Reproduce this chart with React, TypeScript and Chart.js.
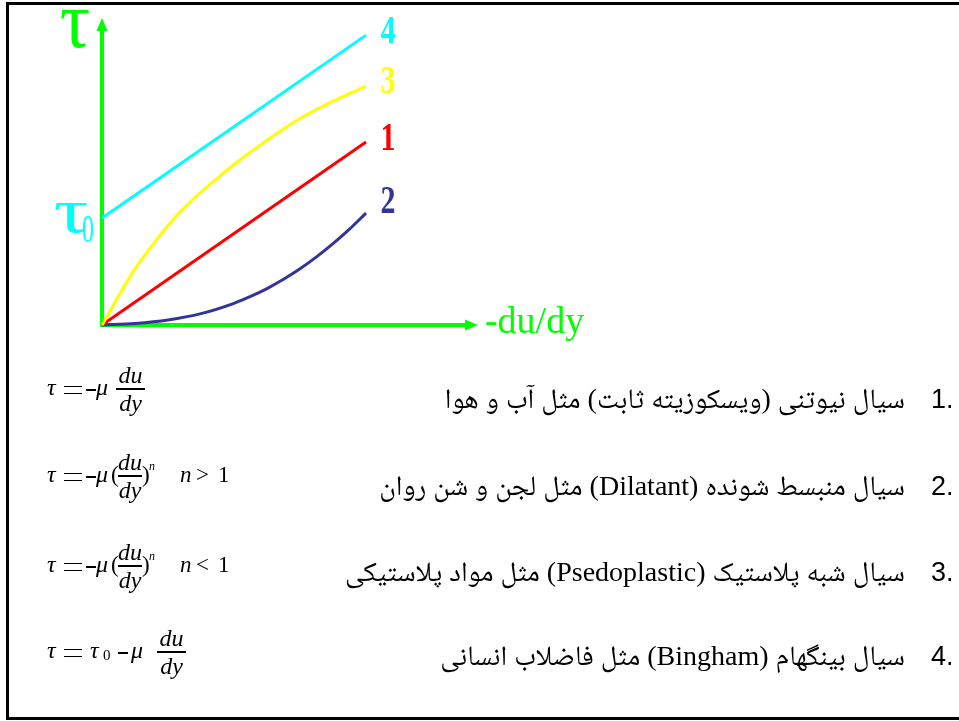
import React, { useEffect, useRef } from "react";
import { Chart, registerables } from "chart.js";

Chart.register(...registerables);

// ---- data (reading of the reference, arbitrary units) ----
const seriesLabels = ["1", "2", "3", "4"];
const newtonianX = [0, 10];
const newtonianY = [0, 6.93];
const dilatantX = [0, 1.25, 2.5, 3.75, 5, 5.625, 6.25, 6.875, 7.5, 8.125, 8.75, 9.375, 10];
const dilatantY = [0, 0.06, 0.19, 0.43, 0.82, 1.08, 1.38, 1.73, 2.13, 2.58, 3.08, 3.63, 4.24];
const pseudoX = [0, 0.6, 1.2, 1.85, 2.46, 3.07, 3.71, 4.36, 4.96, 6.25, 7.5, 8.75, 10];
const pseudoY = [0, 1.05, 2.05, 2.95, 3.72, 4.4, 5.0, 5.55, 6.05, 7.0, 7.82, 8.48, 9.05];
const binghamX = [0, 10];
const binghamY = [4.05, 10.98];
const xAxisEnd = 14.24;
const yAxisEnd = 11.63;

const axisTitleY = "τ";
const axisTitleX = "-du/dy";
const tau0Label = "τ";
const tau0Sub = "0";

const listNumbers = ["1.", "2.", "3.", "4."];
const listTexts = [
  "سیال نیوتنی (ویسکوزیته ثابت) مثل آب و هوا",
  "سیال منبسط شونده (Dilatant) مثل لجن و شن روان",
  "سیال شبه پلاستیک (Psedoplastic) مثل مواد پلاستیکی",
  "سیال بینگهام (Bingham) مثل فاضلاب انسانی",
];

const GREEN = "#00ff00";
const CYAN = "#00ffff";
const YELLOW = "#ffff00";
const RED = "#ff0000";
const NAVY = "#333399";

const X_MIN = -3.864;
const X_MAX = X_MIN + 959 / 26.4;
const Y_MAX = 325 / 26.4;
const Y_MIN = Y_MAX - 721 / 26.4;

const zip = (xs: number[], ys: number[]) => xs.map((x, i) => ({ x, y: ys[i] }));

const SERIF = '"Liberation Serif", "DejaVu Serif", serif';

const overlay = {
  id: "overlay",
  beforeDatasetsDraw(chart: any) {
    const { ctx } = chart;
    const x = chart.scales.x;
    const y = chart.scales.y;
    const ox = x.getPixelForValue(0);
    const oy = y.getPixelForValue(0);
    const xe = x.getPixelForValue(xAxisEnd);
    const ye = y.getPixelForValue(yAxisEnd);
    ctx.save();
    ctx.strokeStyle = GREEN;
    ctx.fillStyle = GREEN;
    ctx.lineWidth = 4;
    ctx.lineCap = "butt";
    ctx.beginPath();
    ctx.moveTo(ox, oy + 2);
    ctx.lineTo(ox, ye + 10);
    ctx.stroke();
    ctx.beginPath();
    ctx.moveTo(ox - 2, oy);
    ctx.lineTo(xe - 10, oy);
    ctx.stroke();
    ctx.beginPath();
    ctx.moveTo(ox, ye);
    ctx.lineTo(ox - 5.5, ye + 13);
    ctx.lineTo(ox + 5.5, ye + 13);
    ctx.closePath();
    ctx.fill();
    ctx.beginPath();
    ctx.moveTo(xe, oy);
    ctx.lineTo(xe - 13, oy - 5.5);
    ctx.lineTo(xe - 13, oy + 5.5);
    ctx.closePath();
    ctx.fill();
    ctx.restore();
  },
  afterDatasetsDraw(chart: any) {
    const { ctx } = chart;
    const x = chart.scales.x;
    const y = chart.scales.y;
    const ox = x.getPixelForValue(0);
    const oy = y.getPixelForValue(0);
    const xe = x.getPixelForValue(xAxisEnd);
    const ye = y.getPixelForValue(yAxisEnd);
    ctx.save();
    ctx.textBaseline = "alphabetic";
    // tau on y-axis
    ctx.fillStyle = GREEN;
    ctx.save();
    ctx.translate(ox - 27, ye + 29);
    ctx.scale(0.95, 1);
    ctx.font = `80px ${SERIF}`;
    ctx.textAlign = "center";
    ctx.fillText(axisTitleY, 0, 0);
    ctx.restore();
    // x-axis title
    ctx.font = `38px ${SERIF}`;
    ctx.textAlign = "left";
    ctx.fillText(axisTitleX, xe + 7, oy + 8);
    // tau0
    const t0y = y.getPixelForValue(binghamY[0]);
    ctx.fillStyle = CYAN;
    ctx.save();
    ctx.translate(ox - 31, t0y + 14);
    ctx.scale(1.35, 1);
    ctx.font = `64px ${SERIF}`;
    ctx.textAlign = "center";
    ctx.fillText(tau0Label, 0, 0);
    ctx.restore();
    ctx.save();
    ctx.translate(ox - 14, t0y + 24);
    ctx.scale(0.6, 1);
    ctx.font = `40px ${SERIF}`;
    ctx.textAlign = "center";
    ctx.fillText(tau0Sub, 0, 0);
    ctx.restore();
    // series numbers
    const ends = [
      { v: newtonianY[newtonianY.length - 1], c: RED, off: 8 },
      { v: dilatantY[dilatantY.length - 1], c: NAVY, off: 0 },
      { v: pseudoY[pseudoY.length - 1], c: YELLOW, off: 7 },
      { v: binghamY[binghamY.length - 1], c: CYAN, off: 8 },
    ];
    const lx = x.getPixelForValue(10) + 22;
    ends.forEach((e, i) => {
      ctx.save();
      ctx.fillStyle = e.c;
      ctx.translate(lx, y.getPixelForValue(e.v) + e.off);
      ctx.scale(0.75, 1);
      ctx.font = `bold 40px ${SERIF}`;
      ctx.textAlign = "center";
      ctx.fillText(seriesLabels[i], 0, 0);
      ctx.restore();
    });
    ctx.restore();
  },
};

function T({ x, b, size = 23, italic = true, children, w, align }: any) {
  return (
    <span
      style={{
        position: "absolute",
        left: x,
        top: b - 0.8375 * size,
        fontSize: size,
        lineHeight: `${size}px`,
        fontStyle: italic ? "italic" : "normal",
        fontFamily: SERIF,
        whiteSpace: "nowrap",
        width: w,
        textAlign: align,
        color: "#000",
      }}
    >
      {children}
    </span>
  );
}

function Line({ x, y, w, h = 1.3 }: any) {
  return <div style={{ position: "absolute", left: x, top: y - h / 2, width: w, height: h, background: "#000" }} />;
}

function Eq({ x, c }: any) {
  return (
    <>
      <Line x={x} y={c - 3.5} w={18} />
      <Line x={x} y={c + 3.5} w={18} />
    </>
  );
}

function Frac({ x, bar, w }: any) {
  return (
    <>
      <T x={x} b={bar - 6} w={w} size={24} align="center">du</T>
      <Line x={x} y={bar} w={w} h={1.2} />
      <T x={x} b={bar + 22} w={w} size={24} align="center">dy</T>
    </>
  );
}

function Formula({ bar, kind }: any) {
  const tb = bar + 6;
  const c = bar + 1;
  if (kind === 4) {
    return (
      <>
        <T x={47} b={tb} size={24}>τ</T>
        <Eq x={64} c={c} />
        <T x={90} b={tb} size={24}>τ</T>
        <T x={103} b={tb + 3} size={15} italic={false}>0</T>
        <Line x={118} y={c} w={10} />
        <T x={131} b={tb} size={24}>μ</T>
        <Frac x={157} bar={bar} w={29} />
      </>
    );
  }
  return (
    <>
      <T x={47} b={tb} size={24}>τ</T>
      <Eq x={64} c={c} />
      <Line x={86} y={c} w={10} />
      <T x={96} b={tb} size={24}>μ</T>
      {kind === 1 ? (
        <Frac x={116} bar={bar} w={29} />
      ) : (
        <>
          <T x={111} b={tb} size={23} italic={false}>(</T>
          <Frac x={118} bar={bar} w={24} />
          <T x={142} b={tb} size={23} italic={false}>)</T>
          <T x={149} b={bar - 6} size={12}>n</T>
          <T x={180} b={tb} size={23}>n</T>
          <T x={196} b={tb} size={23} italic={false}>{kind === 2 ? ">" : "<"}</T>
          <T x={218} b={tb} size={23} italic={false}>1</T>
        </>
      )}
    </>
  );
}

const formulaBars = [389, 476, 566, 652];
const itemCenters = [399, 486, 572, 656];

export default function App() {
  const ref = useRef<HTMLCanvasElement>(null);
  useEffect(() => {
    const chart = new Chart(ref.current as HTMLCanvasElement, {
      type: "scatter",
      data: {
        datasets: [
          { label: "4", data: zip(binghamX, binghamY), borderColor: CYAN },
          { label: "3", data: zip(pseudoX, pseudoY), borderColor: YELLOW },
          { label: "1", data: zip(newtonianX, newtonianY), borderColor: RED },
          { label: "2", data: zip(dilatantX, dilatantY), borderColor: NAVY },
        ].map((d) => ({
          ...d,
          showLine: true,
          borderWidth: 3,
          pointRadius: 0,
          cubicInterpolationMode: "monotone" as const,
          fill: false,
          clip: false as any,
        })),
      },
      options: {
        animation: false,
        responsive: false,
        events: [],
        layout: { padding: 0 },
        plugins: { legend: { display: false }, tooltip: { enabled: false } },
        scales: {
          x: { type: "linear", display: false, min: X_MIN, max: X_MAX },
          y: { type: "linear", display: false, min: Y_MIN, max: Y_MAX },
        },
      },
      plugins: [overlay as any],
    });
    return () => chart.destroy();
  }, []);

  return (
    <div style={{ position: "fixed", left: 0, top: 0, width: 959, height: 721, overflow: "hidden", background: "#fff" }}>
      <div
        style={{
          position: "absolute",
          left: 6,
          top: 2,
          width: 1000,
          height: 712,
          border: "3px solid #000",
          borderRight: "none",
        }}
      />
      <canvas ref={ref} width={959} height={721} style={{ position: "absolute", left: 0, top: 0, width: 959, height: 721 }} />
      {formulaBars.map((b, i) => (
        <Formula key={i} bar={b} kind={i + 1} />
      ))}
      {listTexts.map((t, i) => (
        <React.Fragment key={i}>
          <div
            dir="rtl"
            style={{
              position: "absolute",
              right: 959 - 905,
              top: itemCenters[i] - 18,
              height: 36,
              lineHeight: "36px",
              fontSize: 28,
              fontFamily: '"Liberation Serif", "Noto Naskh Arabic", "Noto Sans Arabic", "DejaVu Sans", serif',
              whiteSpace: "nowrap",
              color: "#000",
            }}
          >
            {t}
          </div>
          <div
            dir="ltr"
            style={{
              position: "absolute",
              left: 931,
              top: itemCenters[i] - 18,
              height: 36,
              lineHeight: "36px",
              fontSize: 27,
              fontFamily: '"Liberation Sans", Arial, sans-serif',
              color: "#000",
            }}
          >
            {listNumbers[i]}
          </div>
        </React.Fragment>
      ))}
    </div>
  );
}
